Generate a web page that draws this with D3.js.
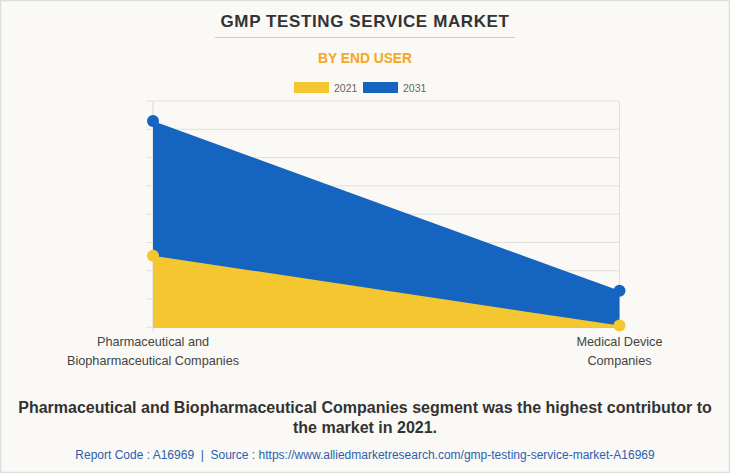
<!DOCTYPE html>
<html><head><meta charset="utf-8">
<script src="https://cdn.jsdelivr.net/npm/d3@7/dist/d3.min.js"></script>
<style>
html,body{margin:0;padding:0;background:#faf9f5;}
svg{display:block;font-family:"Liberation Sans",Arial,sans-serif;}
</style></head>
<body>
<svg id="c" width="730" height="473"></svg>
<script>
const categories = ["Pharmaceutical and\nBiopharmaceutical Companies", "Medical Device\nCompanies"];
const seriesNames = ["2021", "2031"];
const values2021 = [2.53, 0.06];
const values2031 = [7.29, 1.29];
const yTicks = [0,1,2,3,4,5,6,7,8];
const colors = {"2021":"#f4c62f","2031":"#1565c0"};

(function(){
const svg = d3.select("#c");
svg.append("rect").attr("x",0.5).attr("y",0.5).attr("width",729).attr("height",472)
  .attr("fill","#faf9f5").attr("stroke","#dddddd").attr("stroke-width",1.5);

// Title
svg.append("text").attr("x",365).attr("y",27).attr("text-anchor","middle")
  .attr("font-size",17).attr("font-weight","bold").attr("fill","#333")
  .attr("letter-spacing",0.6).text("GMP TESTING SERVICE MARKET");
svg.append("line").attr("x1",215).attr("x2",515).attr("y1",37.5).attr("y2",37.5)
  .attr("stroke","#cccccc").attr("stroke-width",1);
svg.append("text").attr("x",365).attr("y",63).attr("text-anchor","middle")
  .attr("font-size",13.8).attr("font-weight","bold").attr("fill","#f5a623")
  .text("BY END USER");

// Legend
const legX = [294, 363];
seriesNames.forEach((s,i)=>{
  svg.append("rect").attr("x",legX[i]).attr("y",82).attr("width",35).attr("height",11)
    .attr("fill",colors[s]);
  svg.append("text").attr("x",legX[i]+40).attr("y",91.5).attr("font-size",10.5)
    .attr("fill","#666").text(s);
});

const pLeft=153, pRight=619.5, pTop=101, pBottom=327.3;
const x = d3.scalePoint().domain(categories).range([pLeft,pRight]).padding(0);
const y = d3.scaleLinear().domain([0,8]).range([pBottom,pTop]);

// grid
const g = svg.append("g");
g.selectAll("line.grid").data(yTicks).enter().append("line")
  .attr("x1",pLeft-7).attr("x2",pRight).attr("y1",d=>y(d)).attr("y2",d=>y(d))
  .attr("stroke","#e2e0dc").attr("stroke-width",1);
g.append("line").attr("x1",pLeft).attr("x2",pLeft).attr("y1",pTop).attr("y2",pBottom+4)
  .attr("stroke","#d8d6d2");
g.append("line").attr("x1",pRight).attr("x2",pRight).attr("y1",pTop).attr("y2",pBottom)
  .attr("stroke","#e2e0dc");

const area = d3.area().x((d,i)=>x(categories[i])).y0(y(0)).y1(d=>y(d));
svg.append("path").datum(values2031).attr("d",area).attr("fill",colors["2031"]);
svg.append("path").datum(values2021).attr("d",area).attr("fill",colors["2021"]);

[["2031",values2031],["2021",values2021]].forEach(([s,vals])=>{
  svg.selectAll(null).data(vals).enter().append("circle")
    .attr("cx",(d,i)=>x(categories[i])).attr("cy",d=>y(d)).attr("r",6)
    .attr("fill",colors[s]);
});

// x labels
categories.forEach(c=>{
  const lines=c.split("\n");
  const t=svg.append("text").attr("text-anchor","middle").attr("font-size",12.7)
    .attr("fill","#444");
  lines.forEach((l,i)=>t.append("tspan").attr("x",x(c)).attr("y",345.5+i*19).text(l));
});

// bottom note
const note = svg.append("text").attr("text-anchor","middle").attr("font-size",16)
  .attr("font-weight","bold").attr("fill","#333");
note.append("tspan").attr("x",365).attr("y",413).text("Pharmaceutical and Biopharmaceutical Companies segment was the highest contributor to");
note.append("tspan").attr("x",365).attr("y",433).text("the market in 2021.");

svg.append("text").attr("x",365).attr("y",459).attr("text-anchor","middle")
  .attr("font-size",12).attr("fill","#2b5fad")
  .text("Report Code : A16969\u00a0 |\u00a0 Source : https://www.alliedmarketresearch.com/gmp-testing-service-market-A16969");
})();
</script>
</body></html>
